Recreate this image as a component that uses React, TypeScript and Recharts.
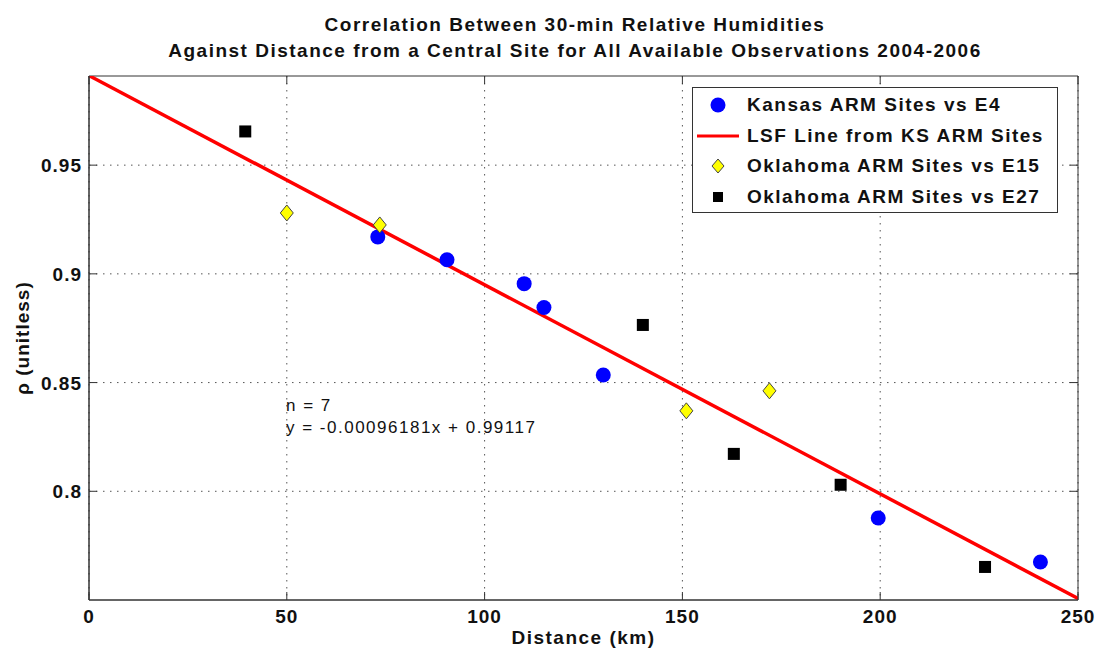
import React from 'react';
import {
  ComposedChart, Scatter, Line, XAxis, YAxis, CartesianGrid, ReferenceArea, Label,
} from 'recharts';

// values
const kansasX = [73, 90.5, 110, 115, 130, 199.5, 240.5];
const kansasY = [0.917, 0.9065, 0.8955, 0.8845, 0.8535, 0.7877, 0.7675];
const e15X = [50, 73.5, 151, 172];
const e15Y = [0.928, 0.9225, 0.837, 0.8462];
const e27X = [39.5, 140, 163, 190, 226.5];
const e27Y = [0.9655, 0.8765, 0.8172, 0.803, 0.7652];
const lsfX = [0, 250];
const lsfY = [0.99117, 0.75072];
const xTicks = [0, 50, 100, 150, 200, 250];
const yTicks = [0.8, 0.85, 0.9, 0.95];
const titleLines = [
  'Correlation Between 30-min Relative Humidities',
  'Against Distance from a Central Site for All Available Observations 2004-2006',
];
const legendNames = [
  'Kansas ARM Sites vs E4',
  'LSF Line from KS ARM Sites',
  'Oklahoma ARM Sites vs E15',
  'Oklahoma ARM Sites vs E27',
];

const pts = (xs: number[], ys: number[]) => xs.map((x, i) => ({ x, y: ys[i] }));
const kansas = pts(kansasX, kansasY);
const e15 = pts(e15X, e15Y);
const e27 = pts(e27X, e27Y);
const lsf = pts(lsfX, lsfY);

const FONT = '"Liberation Sans", Arial, sans-serif';
const W = 1098;
const H = 652;
const M = { top: 76, right: 20, bottom: 22, left: 29 };
const YW = 60;
const XH = 30;
const PW = W - M.left - M.right - YW;
const PH = H - M.top - M.bottom - XH;
const TICK = 8;

const Dot = (p: any) => <circle cx={p.cx} cy={p.cy} r={7.5} fill="#0000ff" />;
const Diamond = (p: any) => (
  <path
    d={`M${p.cx},${p.cy - 8} L${p.cx + 6.5},${p.cy} L${p.cx},${p.cy + 8} L${p.cx - 6.5},${p.cy} Z`}
    fill="#ffff00" stroke="#444" strokeWidth={1}
  />
);
const Square = (p: any) => <rect x={p.cx - 6} y={p.cy - 6} width={12} height={12} fill="#000" />;

function XTick({ x, y, payload }: any) {
  return (
    <g>
      <line x1={x} y1={y} x2={x} y2={y - TICK} stroke="#333" />
      <line x1={x} y1={y - PH} x2={x} y2={y - PH + TICK} stroke="#333" />
      <text x={x} y={y + 23} textAnchor="middle" fontSize={19} fontWeight="bold" letterSpacing={1}
        fontFamily={FONT} fill="#111">{payload.value}</text>
    </g>
  );
}

function YTick({ x, y, payload }: any) {
  return (
    <g>
      <line x1={x} y1={y} x2={x + TICK} y2={y} stroke="#333" />
      <line x1={x + PW} y1={y} x2={x + PW - TICK} y2={y} stroke="#333" />
      <text x={x - 7} y={y + 7} textAnchor="end" fontSize={19} fontWeight="bold" letterSpacing={1}
        fontFamily={FONT} fill="#111">{payload.value}</text>
    </g>
  );
}

function LegendBox() {
  const icons = [
    <circle cx={25} cy={10} r={7.5} fill="#0000ff" />,
    <line x1={4} y1={10} x2={46} y2={10} stroke="#ff0000" strokeWidth={3} />,
    <path d="M25,3 L31,10 L25,17 L19,10 Z" fill="#ffff00" stroke="#444" />,
    <rect x={20} y={5} width={10} height={10} fill="#000" />,
  ];
  return (
    <div style={{
      position: 'absolute', left: 692, top: 87, border: '1px solid #333', background: '#fff', width: 366, height: 126,
      boxSizing: 'border-box', paddingTop: 2, fontFamily: FONT, fontSize: 19, fontWeight: 'bold', letterSpacing: 1.5, color: '#111',
    }}>
      {legendNames.map((n, i) => (
        <div key={n} style={{ display: 'flex', alignItems: 'center', height: 30.5, lineHeight: '30px' }}>
          <svg width={54} height={20} style={{ flex: 'none' }}>{icons[i]}</svg>
          <span style={{ whiteSpace: 'nowrap' }}>{n}</span>
        </div>
      ))}
    </div>
  );
}

export default function App() {
  return (
    <div style={{ position: 'absolute', left: 0, top: 0, width: W, height: H, background: '#fff', fontFamily: FONT }}>
      <div style={{
        position: 'absolute', left: 0, width: W, top: 12, textAlign: 'center', fontSize: 19, fontWeight: 'bold',
        letterSpacing: 1.5, lineHeight: '26px', color: '#111',
      }}>
        {titleLines.map((t) => <div key={t} style={{ paddingLeft: 52, whiteSpace: 'nowrap' }}>{t}</div>)}
      </div>
      <ComposedChart width={W} height={H} margin={M} style={{ position: 'absolute', left: 0, top: 0 }}>
        <CartesianGrid stroke="#555" strokeDasharray="1.5 5.5" horizontalValues={yTicks} verticalValues={xTicks} />
        <XAxis
          dataKey="x" type="number" domain={[0, 250]} ticks={xTicks} allowDataOverflow
          height={XH} tickSize={0} tickMargin={0} tickLine={false} tick={<XTick />} axisLine={{ stroke: '#333' }}
        >
          <Label value="Distance (km)" position="insideBottom" offset={-14} fontSize={19} fontWeight="bold"
            letterSpacing={1.5} fontFamily={FONT} fill="#111" />
        </XAxis>
        <YAxis
          dataKey="y" type="number" domain={[0.75, 0.991]} ticks={yTicks} allowDataOverflow
          width={YW} tickSize={0} tickMargin={0} tickLine={false} tick={<YTick />} axisLine={{ stroke: '#333' }}
        >
          <Label value="ρ (unitless)" angle={-90} position="insideLeft" offset={-7} fontSize={19} fontWeight="bold"
            letterSpacing={1} fontFamily={FONT} fill="#111" style={{ textAnchor: 'middle' }} />
        </YAxis>
        <ReferenceArea x1={0} x2={250} y1={0.75} y2={0.991} fill="none" stroke="#333" strokeWidth={1} />
        <Line data={lsf} dataKey="y" stroke="#ff0000" strokeWidth={3.5} dot={false} isAnimationActive={false} />
        <Scatter data={kansas} shape={Dot} isAnimationActive={false} />
        <Scatter data={e15} shape={Diamond} isAnimationActive={false} />
        <Scatter data={e27} shape={Square} isAnimationActive={false} />
      </ComposedChart>
      <LegendBox />
      <div style={{
        position: 'absolute', left: 286, top: 395, fontSize: 17, lineHeight: '22px', letterSpacing: 1.5, color: '#111',
        whiteSpace: 'nowrap',
      }}>
        <div>n = 7</div>
        <div>y = -0.00096181x + 0.99117</div>
      </div>
    </div>
  );
}
